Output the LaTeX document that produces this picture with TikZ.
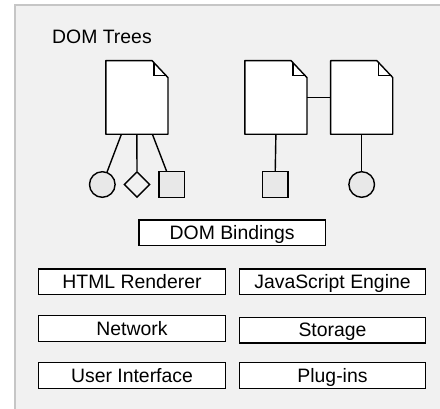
\documentclass[tikz,border=0pt]{standalone}
\usepackage{fontspec}
\setmainfont{Liberation Sans}
\usetikzlibrary{shapes.geometric}

\definecolor{panelbg}{HTML}{F1F1F1}
\definecolor{panelline}{HTML}{C6C6C6}
\definecolor{leafgray}{HTML}{E8E8E8}

\tikzset{
  doc/.style={minimum width=61.7pt, minimum height=73.3pt, inner sep=0pt},
  leaf/.style={draw, fill=leafgray, line width=1.4pt, inner sep=0pt, minimum size=25.6pt},
  part/.style={draw, fill=white, line width=1.4pt, inner sep=0pt, minimum width=186.5pt,
    minimum height=25.6pt, text height=13.9pt, text depth=0pt},
  link/.style={line width=1.4pt}
}

% document icon with a folded corner, drawn over a named node
\newcommand{\domdoc}[2]{%
  \node[doc] (#1) at (#2) {};
  \draw[line width=1.4pt, fill=white, line join=round]
    (#1.south west) -- (#1.north west) -- ([xshift=-16pt]#1.north east)
    -- ([yshift=-17pt]#1.north east) -- (#1.south east) -- cycle;
  \draw[line width=1.4pt]
    ([xshift=-14pt,yshift=-2pt]#1.north east) -- ([xshift=-14pt,yshift=-15pt]#1.north east)
    -- ([xshift=-1pt,yshift=-15pt]#1.north east);
}

\begin{document}
\begin{tikzpicture}[x=1pt,y=-1pt,font=\fontsize{19.4}{22}\selectfont]
\clip (0,0) rectangle (440,408);
\fill[white] (0,0) rectangle (440,408);
\draw[fill=panelbg, draw=panelline, line width=1.6pt] (14.8,4.8) rectangle (460,430);

\node[anchor=base west, inner sep=0pt] (title) at (52,43.3) {DOM Trees};

% first tree
\domdoc{doc1}{136.9,97.4}
\node[leaf, circle] (c1) at (102.3,184.5) {};
\node[draw, diamond, line width=1.4pt, inner sep=0pt, minimum size=26pt] (d1) at (137,184.5) {};
\node[leaf, rectangle] (s1) at (171.7,184.5) {};
\draw[link] ([xshift=-15.5pt]doc1.south) -- (c1);
\draw[link] (doc1.south) -- (d1);
\draw[link] ([xshift=15.5pt]doc1.south) -- (s1);

% second tree
\domdoc{doc2}{275.9,97.4}
\domdoc{doc3}{361.7,97.4}
\node[leaf, rectangle] (s2) at (275,184.5) {};
\node[leaf, circle] (c2) at (361.7,184.5) {};
\draw[link] (doc2.east) -- (doc3.west);
\draw[link] (doc2.south) -- (s2);
\draw[link] (doc3.south) -- (c2);

% components
\node[part] (bind) at (232.2,232.9) {DOM Bindings};
\node[part] (html) at (132,281.7) {HTML Renderer};
\node[part] (js) at (332.5,281.7) {JavaScript Engine};
\node[part] (net) at (132,328.4) {Network};
\node[part] (store) at (332.5,330) {Storage};
\node[part] (ui) at (132,375.5) {User Interface};
\node[part] (plug) at (332.5,375.5) {Plug-ins};
\end{tikzpicture}
\end{document}
